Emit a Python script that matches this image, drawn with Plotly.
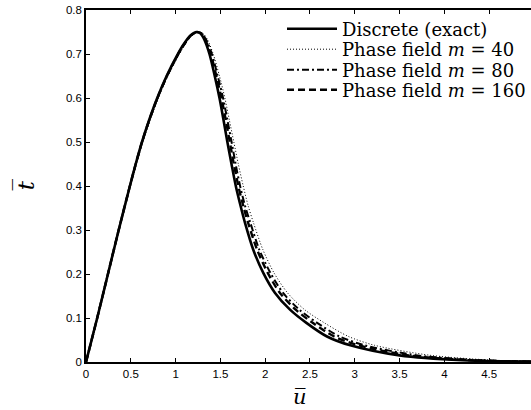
import plotly.graph_objects as go

# Discrete (exact)
u_exact = [0, 0.125, 0.245, 0.365, 0.49, 0.555, 0.625, 0.705, 0.795, 0.90, 1.02, 1.09, 1.16, 1.23, 1.275,
           1.32, 1.378, 1.437, 1.49, 1.535, 1.578, 1.624, 1.672, 1.725, 1.775, 1.867, 1.98, 2.11, 2.277,
           2.46, 2.69, 2.95, 3.5, 4.2, 5.0]
t_exact = [0, 0.1, 0.2, 0.3, 0.4, 0.45, 0.5, 0.55, 0.6, 0.65, 0.698, 0.722, 0.741, 0.75, 0.747,
           0.733, 0.70, 0.65, 0.6, 0.55, 0.5, 0.45, 0.4, 0.355, 0.316, 0.255, 0.202, 0.157, 0.119,
           0.089, 0.058, 0.038, 0.015, 0.004, 0.001]

# Phase field curves (same traction levels, read at their own separations)
t_pf = [0, 0.1, 0.2, 0.3, 0.4, 0.45, 0.5, 0.55, 0.6, 0.65, 0.698, 0.722, 0.741, 0.75, 0.747,
        0.733, 0.70, 0.65, 0.6, 0.55, 0.5, 0.45, 0.4, 0.355, 0.316, 0.255, 0.202, 0.157, 0.119,
        0.089, 0.058, 0.038, 0.015, 0.004, 0.001]
u_m40 = [0, 0.125, 0.245, 0.37, 0.495, 0.562, 0.633, 0.715, 0.807, 0.914, 1.037, 1.108, 1.18, 1.255, 1.305,
         1.355, 1.42, 1.49, 1.55, 1.60, 1.65, 1.70, 1.755, 1.81, 1.87, 1.975, 2.10, 2.25, 2.44,
         2.66, 2.93, 3.22, 3.85, 4.55, 5.0]
u_m80 = [0, 0.125, 0.245, 0.365, 0.49, 0.556, 0.627, 0.708, 0.80, 0.906, 1.028, 1.098, 1.17, 1.242, 1.29,
         1.34, 1.405, 1.47, 1.53, 1.578, 1.625, 1.67, 1.72, 1.775, 1.835, 1.935, 2.06, 2.20, 2.38,
         2.58, 2.83, 3.11, 3.7, 4.4, 5.0]
u_m160 = [0, 0.125, 0.245, 0.365, 0.49, 0.555, 0.625, 0.706, 0.797, 0.903, 1.024, 1.094, 1.165, 1.236, 1.283,
          1.33, 1.392, 1.455, 1.512, 1.56, 1.605, 1.65, 1.70, 1.755, 1.81, 1.91, 2.03, 2.165, 2.34,
          2.53, 2.77, 3.04, 3.6, 4.3, 5.0]

x_ticks = [0, 0.5, 1, 1.5, 2, 2.5, 3, 3.5, 4, 4.5, 5]
x_ticklabels = ["0", "0.5", "1", "1.5", "2", "2.5", "3", "3.5", "4", "4.5", "5"]
y_ticks = [0, 0.1, 0.2, 0.3, 0.4, 0.5, 0.6, 0.7, 0.8]
y_ticklabels = ["0", "0.1", "0.2", "0.3", "0.4", "0.5", "0.6", "0.7", "0.8"]

names = ["Discrete (exact)", "Phase field <i>m</i> = 40",
         "Phase field <i>m</i> = 80", "Phase field <i>m</i> = 160"]

fig = go.Figure()
fig.add_trace(go.Scatter(x=u_exact, y=t_exact, mode="lines", name=names[0], legend="legend",
                         line=dict(color="black", width=2.6, shape="spline", smoothing=0.8)))
fig.add_trace(go.Scatter(x=u_m40, y=t_pf, mode="lines", name=names[1], legend="legend2",
                         line=dict(color="black", width=1, dash="1px,2px", shape="spline", smoothing=0.8)))
fig.add_trace(go.Scatter(x=u_m80, y=t_pf, mode="lines", name=names[2], legend="legend3",
                         line=dict(color="black", width=2, dash="7px,3px,2px,3px", shape="spline", smoothing=0.8)))
fig.add_trace(go.Scatter(x=u_m160, y=t_pf, mode="lines", name=names[3], legend="legend4",
                         line=dict(color="black", width=2.4, dash="7px,4px", shape="spline", smoothing=0.8)))

tickfont = dict(family="Liberation Sans, Arial, sans-serif", size=11.5, color="black")
legfont = dict(family="DejaVu Serif", size=18, color="black")


def leg(py):
    return dict(x=(282 - 86) / 445, y=(362 - py) / 352, xanchor="left", yanchor="middle",
                bgcolor="rgba(255,255,255,0)", borderwidth=0, font=legfont,
                itemwidth=50, tracegroupgap=0)


fig.update_layout(
    width=531, height=410,
    margin=dict(l=86, r=0, t=10, b=48, pad=0),
    paper_bgcolor="white", plot_bgcolor="white",
    showlegend=True,
    legend=leg(29), legend2=leg(49.5), legend3=leg(70), legend4=leg(90),
    xaxis=dict(range=[0, 4.967], tickvals=x_ticks, ticktext=x_ticklabels,
               ticks="inside", ticklen=4, tickcolor="black", tickwidth=1,
               showline=True, linecolor="black", linewidth=1.5, mirror="ticks",
               showgrid=False, zeroline=False, tickfont=tickfont),
    yaxis=dict(range=[0, 0.8], tickvals=y_ticks, ticktext=y_ticklabels,
               ticks="inside", ticklen=4, tickcolor="black", tickwidth=1,
               showline=True, linecolor="black", linewidth=1.5, mirror=False,
               showgrid=False, zeroline=False, tickfont=tickfont),
    yaxis2=dict(range=[0, 0.8], tickvals=y_ticks, overlaying="y", side="right",
                ticks="inside", ticklen=4, tickcolor="black", tickwidth=1,
                showticklabels=False, showline=False, showgrid=False, zeroline=False),
    annotations=[
        dict(text="<i>u\u0305</i>", xref="paper", yref="paper",
             x=(300 - 86) / 445, y=(362 - 397) / 352, showarrow=False,
             xanchor="center", yanchor="middle",
             font=dict(family="DejaVu Serif", size=21, color="black")),
        dict(text="<i>t\u0305</i>", xref="paper", yref="paper",
             x=(25 - 86) / 445, y=(362 - 185) / 352, showarrow=False, textangle=-90,
             xanchor="center", yanchor="middle",
             font=dict(family="DejaVu Serif", size=23, color="black")),
    ],
)

fig.write_html("out.html", config={"displayModeBar": False},
               post_script="document.body.style.margin='0';document.body.style.overflow='hidden';")
